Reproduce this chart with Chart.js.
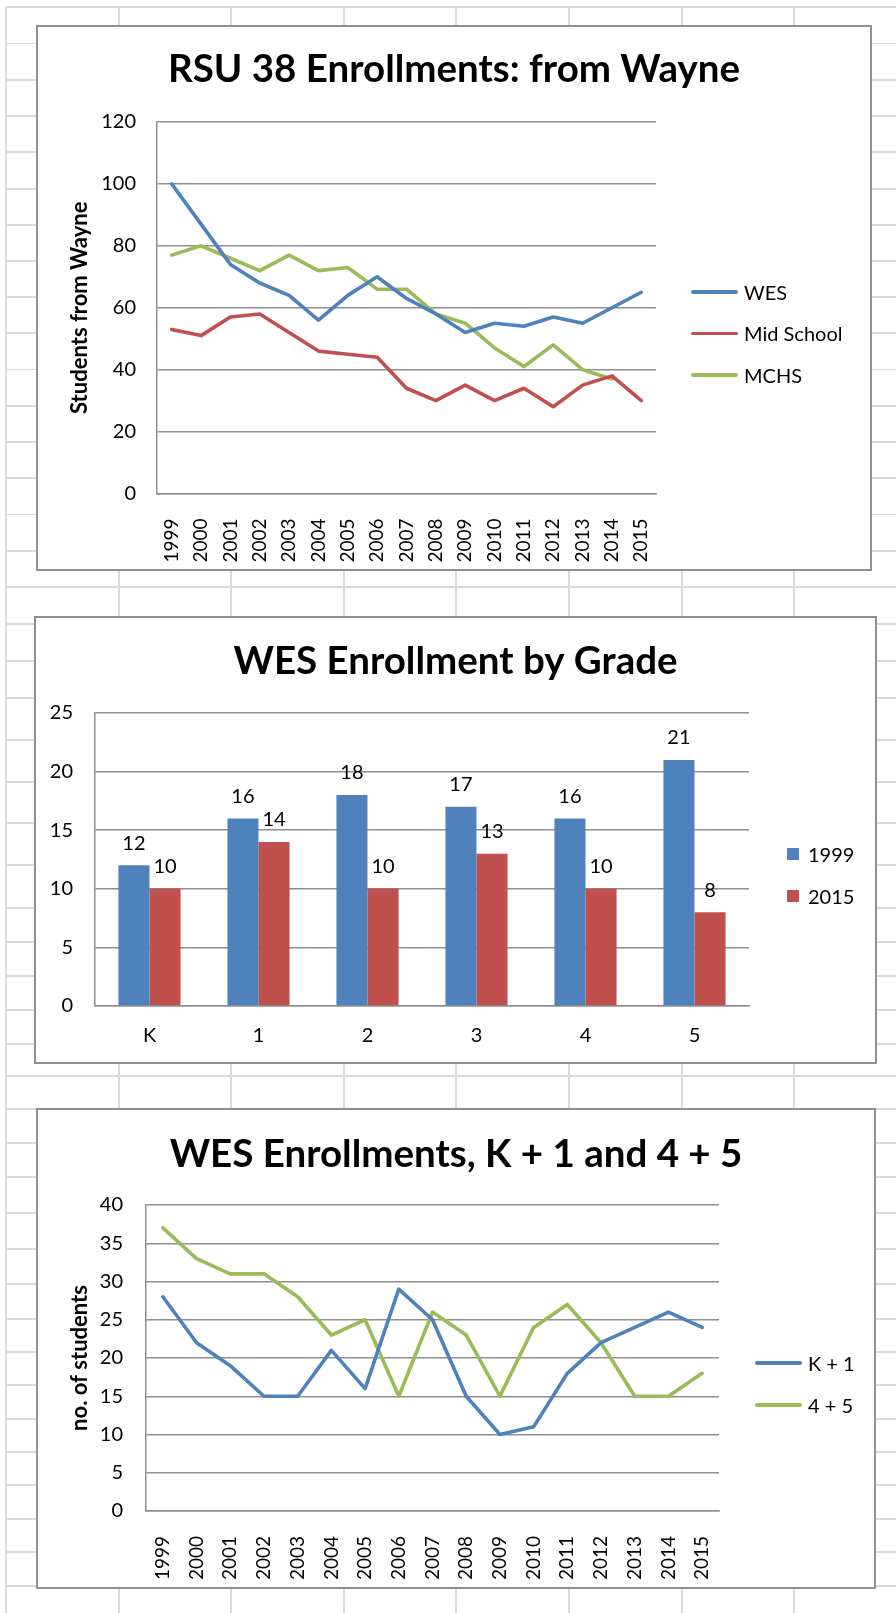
<!DOCTYPE html>
<html>
<head>
<meta charset="utf-8">
<script src="https://cdn.jsdelivr.net/npm/chart.js@4.4.1/dist/chart.umd.min.js"></script>
<style>
  html, body { margin: 0; padding: 0; background: #fff; }
  body { width: 896px; height: 1613px; position: relative; overflow: hidden; font-family: Lato, "Open Sans", sans-serif; }
  .vline { position: absolute; top: 6px; bottom: 0; width: 1.5px; background: #dadada; }
  .hline { position: absolute; left: 5px; right: 0; height: 1.5px; background: #dadada; }
  .box { position: absolute; box-sizing: border-box; border: 2px solid #909090; background: #fff; }
  canvas { position: absolute; }
  .legend { position: absolute; font-size: 20px; color: #000; }
  .legend .item { display: flex; align-items: center; white-space: nowrap; }
</style>
</head>
<body>
<div id="sheet"></div>

<div class="box" style="left:36px;top:25px;width:836px;height:546px"></div>
<canvas id="c1" width="836" height="546" style="left:36px;top:25px"></canvas>
<div class="legend" id="l1" style="left:691px;top:271px"></div>

<div class="box" style="left:34px;top:616px;width:843px;height:448px"></div>
<canvas id="c2" width="843" height="448" style="left:34px;top:616px"></canvas>
<div class="legend" id="l2" style="left:787px;top:833px"></div>

<div class="box" style="left:36px;top:1108px;width:840px;height:481px"></div>
<canvas id="c3" width="840" height="481" style="left:36px;top:1108px"></canvas>
<div class="legend" id="l3" style="left:755px;top:1342px"></div>

<script>
// chart data
const years = ['1999', '2000', '2001', '2002', '2003', '2004', '2005', '2006', '2007',
               '2008', '2009', '2010', '2011', '2012', '2013', '2014', '2015'];
const wes       = [100, 87, 74, 68, 64, 56, 64, 70, 63, 58, 52, 55, 54, 57, 55, 60, 65];
const midSchool = [53, 51, 57, 58, 52, 46, 45, 44, 34, 30, 35, 30, 34, 28, 35, 38, 30];
const mchs      = [77, 80, 76, 72, 77, 72, 73, 66, 66, 58, 55, 47, 41, 48, 40, 37, null];

const grades    = ['K', '1', '2', '3', '4', '5'];
const grade1999 = [12, 16, 18, 17, 16, 21];
const grade2015 = [10, 14, 10, 13, 10, 8];

const kPlus1    = [28, 22, 19, 15, 15, 21, 16, 29, 25, 15, 10, 11, 18, 22, 24, 26, 24];
const fourPlus5 = [37, 33, 31, 31, 28, 23, 25, 15, 26, 23, 15, 24, 27, 22, 15, 15, 18];

// spreadsheet cell lines behind the charts
const colLines = [5, 118, 230, 343, 455, 568, 681, 793];
const rowLines = [6, 42.5, 79, 115, 151, 188, 224, 260, 296, 332, 368.5, 405, 441, 477, 513.5, 550,
                  586, 623, 660, 697, 739, 781, 822, 864, 907, 941, 975, 1009, 1043, 1075,
                  1108, 1142, 1176, 1212, 1248, 1283, 1318, 1351, 1384, 1418, 1451, 1484, 1518, 1551, 1585];
const sheet = document.getElementById('sheet');
colLines.forEach(x => {
  const d = document.createElement('div'); d.className = 'vline'; d.style.left = x + 'px'; sheet.appendChild(d);
});
rowLines.forEach(y => {
  const d = document.createElement('div'); d.className = 'hline'; d.style.top = y + 'px'; sheet.appendChild(d);
});

const blue = '#4F81BD', red = '#C0504D', green = '#9BBB59';
const gridColor = '#8f8f8f';

Chart.defaults.font.family = 'Lato';
Chart.defaults.color = '#000';
Chart.defaults.animation = false;

// empty axis on the right keeps room for the legend, so the title stays centred on the box
function spacer(w) {
  return {
    position: 'right',
    grid: { display: false },
    border: { display: false },
    ticks: { display: false },
    afterFit: s => { s.width = w; }
  };
}

function lineScales(max, step, yTitle, yWidth, xHeight, yPad, rightW) {
  return {
    x: {
      offset: true,
      grid: { display: false },
      border: { color: gridColor, width: 1.5 },
      ticks: { autoSkip: false, minRotation: 90, maxRotation: 90, padding: 17, font: { size: 19 } },
      afterFit: s => { s.height = xHeight; }
    },
    y: {
      min: 0, max: max,
      ticks: { stepSize: step, padding: yPad, font: { size: 20 } },
      grid: { color: gridColor, lineWidth: 1.5, drawTicks: false },
      border: { color: gridColor, width: 1.5 },
      title: { display: true, text: yTitle, font: { size: 22, weight: 'bold' }, padding: { top: 30.8, bottom: 0 } },
      afterFit: s => { s.width = yWidth; }
    },
    yr: spacer(rightW)
  };
}

const lineElements = {
  line: { borderWidth: 3.6, tension: 0, borderJoinStyle: 'round', borderCapStyle: 'round' },
  point: { radius: 0 }
};

function titleOpts(text, top, bottom) {
  return { display: true, text: text, font: { size: 38.5, weight: 'bold' }, padding: { top: top, bottom: bottom } };
}

const chart1 = new Chart(document.getElementById('c1'), {
  type: 'line',
  data: {
    labels: years,
    datasets: [
      { label: 'WES', data: wes, borderColor: blue },
      { label: 'Mid School', data: midSchool, borderColor: red },
      { label: 'MCHS', data: mchs, borderColor: green }
    ]
  },
  options: {
    responsive: false,
    layout: { padding: 0 },
    elements: lineElements,
    plugins: {
      legend: { display: false },
      tooltip: { enabled: false },
      title: titleOpts('RSU 38 Enrollments: from Wayne', 21.9, 28.9)
    },
    scales: lineScales(120, 20, 'Students from Wayne', 121, 77.5, 21, 216)
  }
});

// value labels above the bars
const barLabels = {
  id: 'barLabels',
  afterDatasetsDraw(chart) {
    const ctx = chart.ctx;
    ctx.save();
    ctx.font = '20px Lato';
    ctx.fillStyle = '#000';
    ctx.textAlign = 'center';
    ctx.textBaseline = 'middle';
    chart.data.datasets.forEach((ds, i) => {
      chart.getDatasetMeta(i).data.forEach((bar, j) => {
        ctx.fillText(String(ds.data[j]), bar.x, bar.y - 22);
      });
    });
    ctx.restore();
  }
};

const chart2 = new Chart(document.getElementById('c2'), {
  type: 'bar',
  data: {
    labels: grades,
    datasets: [
      { label: '1999', data: grade1999, backgroundColor: blue },
      { label: '2015', data: grade2015, backgroundColor: red }
    ]
  },
  options: {
    responsive: false,
    layout: { padding: 0 },
    datasets: { bar: { categoryPercentage: 0.57, barPercentage: 1 } },
    plugins: {
      legend: { display: false },
      tooltip: { enabled: false },
      title: titleOpts('WES Enrollment by Grade', 22.9, 27.9)
    },
    scales: {
      x: {
        grid: { display: false },
        border: { color: gridColor, width: 1.5 },
        ticks: { padding: 10, font: { size: 20 } },
        afterFit: s => { s.height = 58; }
      },
      y: {
        min: 0, max: 25,
        ticks: { stepSize: 5, padding: 22, font: { size: 20 } },
        grid: { color: gridColor, lineWidth: 1.5, drawTicks: false },
        border: { color: gridColor, width: 1.5 },
        afterFit: s => { s.width = 61; }
      },
      yr: spacer(128)
    }
  },
  plugins: [barLabels]
});

const chart3 = new Chart(document.getElementById('c3'), {
  type: 'line',
  data: {
    labels: years,
    datasets: [
      { label: 'K + 1', data: kPlus1, borderColor: blue },
      { label: '4 + 5', data: fourPlus5, borderColor: green }
    ]
  },
  options: {
    responsive: false,
    layout: { padding: 0 },
    elements: lineElements,
    plugins: {
      legend: { display: false },
      tooltip: { enabled: false },
      title: titleOpts('WES Enrollments, K + 1 and 4 + 5', 23.9, 26.9)
    },
    scales: lineScales(40, 5, 'no. of students', 110, 78, 23, 157)
  }
});

// html legends built from the chart datasets
function htmlLegend(chart, id, itemH, square) {
  const el = document.getElementById(id);
  chart.data.datasets.forEach(ds => {
    const item = document.createElement('div');
    item.className = 'item';
    item.style.height = itemH + 'px';
    const mark = document.createElement('span');
    if (square) {
      mark.style.cssText = 'display:inline-block;width:12px;height:12px;margin-right:9px;background:' + ds.backgroundColor;
    } else {
      mark.style.cssText = 'display:inline-block;width:47px;height:3.5px;border-radius:2px;margin-right:6px;background:' + ds.borderColor;
    }
    const txt = document.createElement('span');
    txt.textContent = ds.label;
    item.appendChild(mark);
    item.appendChild(txt);
    el.appendChild(item);
  });
}
htmlLegend(chart1, 'l1', 41.5, false);
htmlLegend(chart2, 'l2', 42, true);
htmlLegend(chart3, 'l3', 42, false);
</script>
</body>
</html>
